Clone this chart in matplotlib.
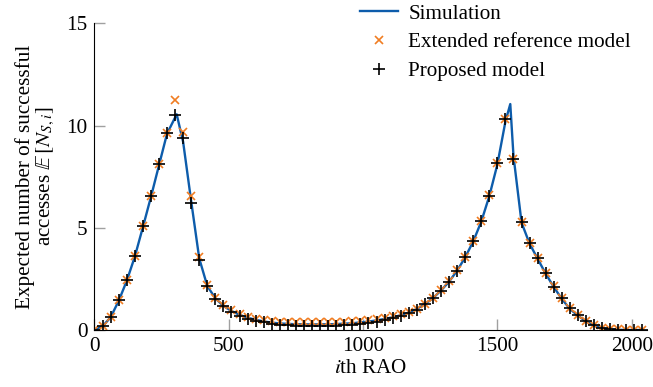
import numpy as np
import matplotlib
matplotlib.use('Agg')
import matplotlib.pyplot as plt

plt.rcParams['font.family'] = ['Liberation Serif', 'DejaVu Serif']
plt.rcParams['mathtext.fontset'] = 'stix'
plt.rcParams['font.size'] = 15.2

# RAO index of the model points (every 30th RAO)
rao = np.arange(0, 2041, 30)

# Proposed model
proposed = [0.0, 0.2, 0.65, 1.47, 2.44, 3.62, 5.08, 6.55, 8.11, 9.64,
            10.5, 9.37, 6.19, 3.42, 2.13, 1.52, 1.15, 0.9, 0.7, 0.56,
            0.46, 0.38, 0.31, 0.26, 0.23, 0.21, 0.2, 0.2, 0.2, 0.2,
            0.21, 0.23, 0.26, 0.3, 0.35, 0.41, 0.49, 0.57, 0.68, 0.82,
            1.0, 1.25, 1.55, 1.92, 2.35, 2.9, 3.55, 4.35, 5.33, 6.57,
            8.15, 10.31, 8.36, 5.28, 4.25, 3.5, 2.77, 2.12, 1.55, 1.06,
            0.73, 0.44, 0.24, 0.1, 0.03, 0.01, 0.0, 0.0, 0.0]

# Extended reference model
extended = [0.0, 0.2, 0.65, 1.47, 2.44, 3.62, 5.08, 6.55, 8.11, 9.64,
            11.24, 9.69, 6.55, 3.58, 2.18, 1.58, 1.22, 0.97, 0.78, 0.65,
            0.56, 0.49, 0.44, 0.41, 0.39, 0.38, 0.38, 0.38, 0.38, 0.38,
            0.39, 0.4, 0.42, 0.45, 0.49, 0.54, 0.6, 0.67, 0.76, 0.88,
            1.05, 1.29, 1.58, 1.95, 2.38, 2.92, 3.57, 4.36, 5.34, 6.58,
            8.16, 10.32, 8.37, 5.3, 4.27, 3.52, 2.79, 2.14, 1.57, 1.08,
            0.75, 0.46, 0.26, 0.12, 0.05, 0.03, 0.02, 0.02, 0.02]

# Simulation
sim_rao = [0, 30, 60, 90, 120, 150, 180, 210, 240, 270, 306, 330, 360, 390,
           420, 450, 480, 510, 540, 570, 600, 630, 660, 690, 720, 750, 780,
           810, 840, 870, 900, 930, 960, 990, 1020, 1050, 1080, 1110, 1140,
           1170, 1200, 1230, 1260, 1290, 1320, 1350, 1380, 1410, 1440, 1470,
           1500, 1530, 1548, 1560, 1590, 1620, 1650, 1680, 1710, 1740, 1770,
           1800, 1830, 1860, 1890, 1920, 1950, 1980, 2010, 2040]
simulation = [0.0, 0.18, 0.62, 1.42, 2.4, 3.58, 5.02, 6.5, 8.05, 9.6,
              10.55, 9.2, 6.3, 3.5, 2.15, 1.55, 1.18, 0.93, 0.74, 0.6,
              0.5, 0.42, 0.36, 0.32, 0.3, 0.28, 0.28, 0.27, 0.28, 0.28,
              0.29, 0.31, 0.33, 0.37, 0.41, 0.47, 0.54, 0.62, 0.72, 0.85,
              1.03, 1.27, 1.56, 1.93, 2.36, 2.9, 3.55, 4.33, 5.3, 6.55,
              8.1, 10.2, 11.05, 8.5, 5.25, 4.22, 3.48, 2.75, 2.1, 1.52,
              1.03, 0.7, 0.42, 0.22, 0.09, 0.03, 0.01, 0.0, 0.0, 0.0]

fig = plt.figure(figsize=(6.53, 3.87), dpi=100)
ax = fig.add_axes([0.1447, 0.1473, 0.8461, 0.7925])

ax.plot(sim_rao, simulation, color='#0d5cab', linewidth=1.7, label='Simulation')
ax.plot(rao, extended, linestyle='none', marker='x', color='#f07d22',
        markersize=6, markeredgewidth=1.2, label='Extended reference model')
ax.plot(rao, proposed, linestyle='none', marker='+', color='black',
        markersize=9, markeredgewidth=1.2, label='Proposed model')

ax.set_xlim(0, 2057)
ax.set_ylim(0, 15)
ax.set_xticks([0, 500, 1000, 1500, 2000])
ax.set_yticks([0, 5, 10, 15])

for side in ['top', 'right']:
    ax.spines[side].set_visible(False)
ax.tick_params(direction='in', length=8, width=1.0, color='#a0a0a0',
               labelcolor='black', pad=5)

ax.set_xlabel('$i$th RAO', labelpad=2)
ax.set_ylabel('Expected number of successful\naccesses $\\mathbb{E}\\,[N_{S,i}]$',
              linespacing=1.0)
ax.yaxis.set_label_coords(-0.068, 0.5)

fig.legend(loc='upper left', bbox_to_anchor=(0.551, 0.99), frameon=False,
           borderpad=0, borderaxespad=0, handlelength=1.8, handletextpad=0.5,
           labelspacing=0.42)

fig.savefig('out.png', dpi=100)
